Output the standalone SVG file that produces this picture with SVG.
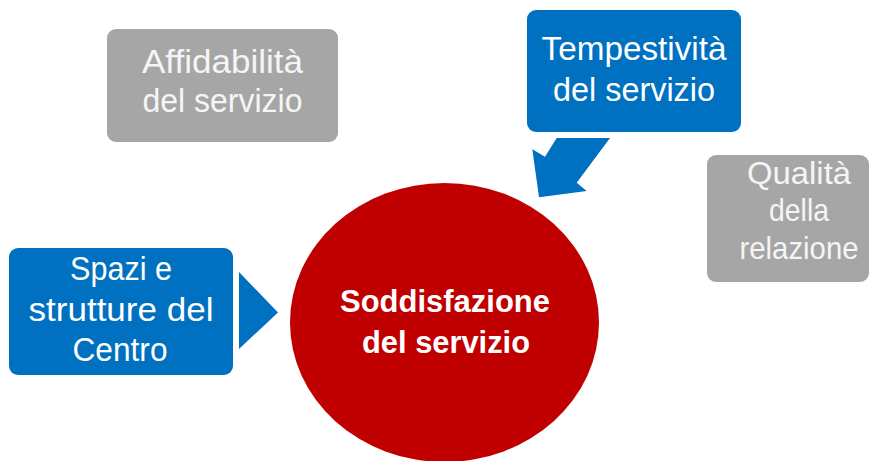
<svg xmlns="http://www.w3.org/2000/svg" width="870" height="461" viewBox="0 0 870 461">
<style>
.blue{fill:#0070C0}
.gray{fill:#A6A6A6}
.t{font-family:"Liberation Sans",Arial,sans-serif;font-size:34px;fill:#FFFFFF;text-anchor:middle}
.tg{fill:#F5F5F5}
.q{font-size:32px}
.b{font-family:"Liberation Sans",Arial,sans-serif;font-size:32px;font-weight:bold;fill:#FFFFFF;text-anchor:middle}
</style>
<rect width="870" height="461" fill="#FFFFFF"/>
<g id="connectors">
<polygon class="blue" points="556.7,138 610,138 576.7,182.7 586.7,191 539,197.3 532.3,149.3 545,156.7"/>
<polygon class="blue" points="239,272 278,312.5 239,349"/>
</g>
<g id="affidabilita">
<rect class="gray" x="107" y="29" width="231" height="113" rx="9"/>
<text class="t tg" x="222.5" y="73" textLength="161" lengthAdjust="spacingAndGlyphs">Affidabilità</text>
<text class="t tg" x="222.5" y="112" textLength="160" lengthAdjust="spacingAndGlyphs">del servizio</text>
</g>
<g id="tempestivita">
<rect class="blue" x="527" y="10" width="214" height="122" rx="9"/>
<text class="t" x="634" y="60" textLength="185" lengthAdjust="spacingAndGlyphs">Tempestività</text>
<text class="t" x="634" y="101" textLength="162" lengthAdjust="spacingAndGlyphs">del servizio</text>
</g>
<g id="qualita">
<rect class="gray" x="707" y="155" width="162" height="127" rx="9"/>
<text class="t tg q" x="799" y="184" textLength="104" lengthAdjust="spacingAndGlyphs">Qualità</text>
<text class="t tg q" x="799" y="221" textLength="60" lengthAdjust="spacingAndGlyphs">della</text>
<text class="t tg q" x="799" y="259" textLength="119" lengthAdjust="spacingAndGlyphs">relazione</text>
</g>
<g id="spazi">
<rect class="blue" x="9" y="248" width="224" height="127" rx="9"/>
<text class="t" x="121" y="280" textLength="102" lengthAdjust="spacingAndGlyphs">Spazi e</text>
<text class="t" x="121" y="321" textLength="185" lengthAdjust="spacingAndGlyphs">strutture del</text>
<text class="t" x="120" y="361" textLength="95" lengthAdjust="spacingAndGlyphs">Centro</text>
</g>
<g id="soddisfazione">
<ellipse cx="444.5" cy="322.5" rx="154.5" ry="139.5" fill="#C00000"/>
<text class="b" x="445" y="312" textLength="210" lengthAdjust="spacingAndGlyphs">Soddisfazione</text>
<text class="b" x="446" y="353" textLength="168" lengthAdjust="spacingAndGlyphs">del servizio</text>
</g>
</svg>
